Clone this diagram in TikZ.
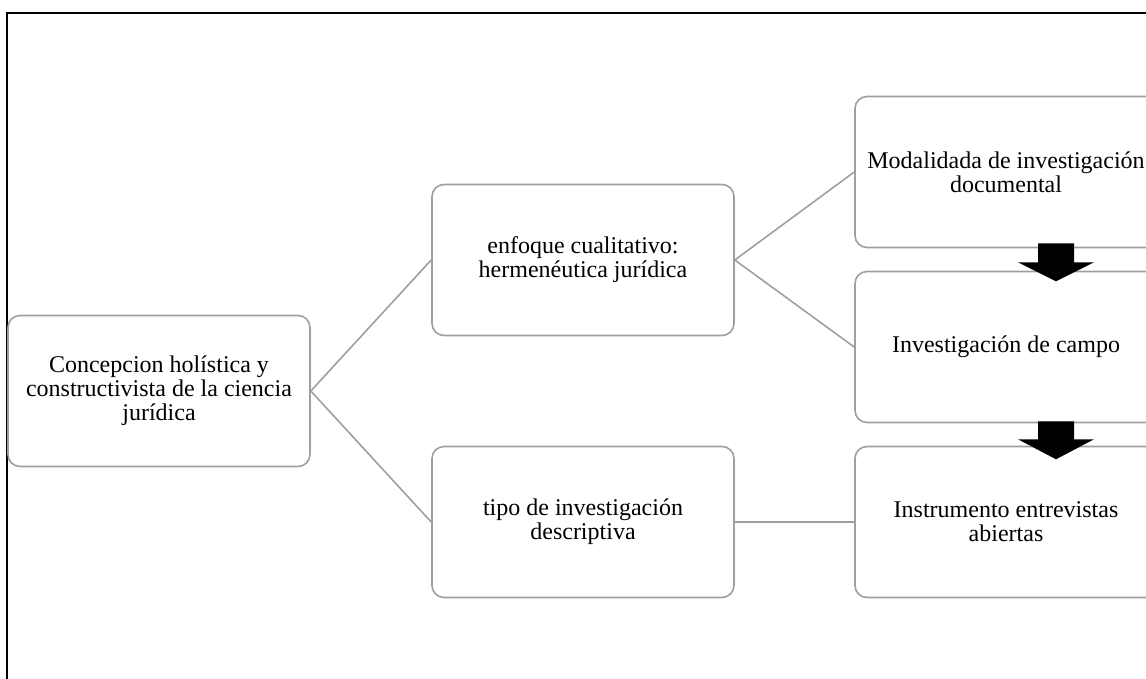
\documentclass[tikz,border=0pt]{standalone}
\usepackage{fontspec}
\setmainfont{Liberation Serif}
\usetikzlibrary{calc}

\begin{document}
\begin{tikzpicture}[x=1pt,y=-1pt,
	caja/.style={draw=gray!75, line width=1.6pt, rounded corners=12pt, fill=white,
		minimum width=302pt, minimum height=151pt, text width=290pt, align=flush center,
		font=\fontsize{24}{24}\selectfont},
	enlace/.style={draw=gray!75, line width=1.6pt},
	flecha/.style={fill=black}]
	\useasboundingbox (0,0) rectangle (1146,678);
	\clip (0,0) rectangle (1146,678);
	\draw[line width=1.6pt] (7,700) -- (7,13) -- (1170,13);
	% nodos
	\node[caja] (concepcion) at (159,391) {Concepcion holística y constructivista de la ciencia jurídica};
	\node[caja] (enfoque) at (583,260) {enfoque cualitativo: hermenéutica jurídica};
	\node[caja] (tipo) at (583,522) {tipo de investigación descriptiva};
	\node[caja] (modalidad) at (1006,172) {Modalidada de investigación documental};
	\node[caja] (campo) at (1006,347) {Investigación de campo};
	\node[caja] (instrumento) at (1006,522) {Instrumento entrevistas abiertas};
	% conectores
	\draw[enlace] (concepcion.east) -- (enfoque.west);
	\draw[enlace] (concepcion.east) -- (tipo.west);
	\draw[enlace] (enfoque.east) -- (modalidad.west);
	\draw[enlace] (enfoque.east) -- (campo.west);
	\draw[enlace] (tipo.east) -- (instrumento.west);
	% flechas de bloque
	\fill[flecha] ($(modalidad.south)+(32,-5)$) -- ++(36,0) -- ++(0,19) -- ++(20,0) -- ++(-38,19)
		-- ++(-38,-19) -- ++(20,0) -- cycle;
	\fill[flecha] ($(campo.south)+(32,-2)$) -- ++(36,0) -- ++(0,18) -- ++(20,0) -- ++(-38,20)
		-- ++(-38,-20) -- ++(20,0) -- cycle;
\end{tikzpicture}
\end{document}
